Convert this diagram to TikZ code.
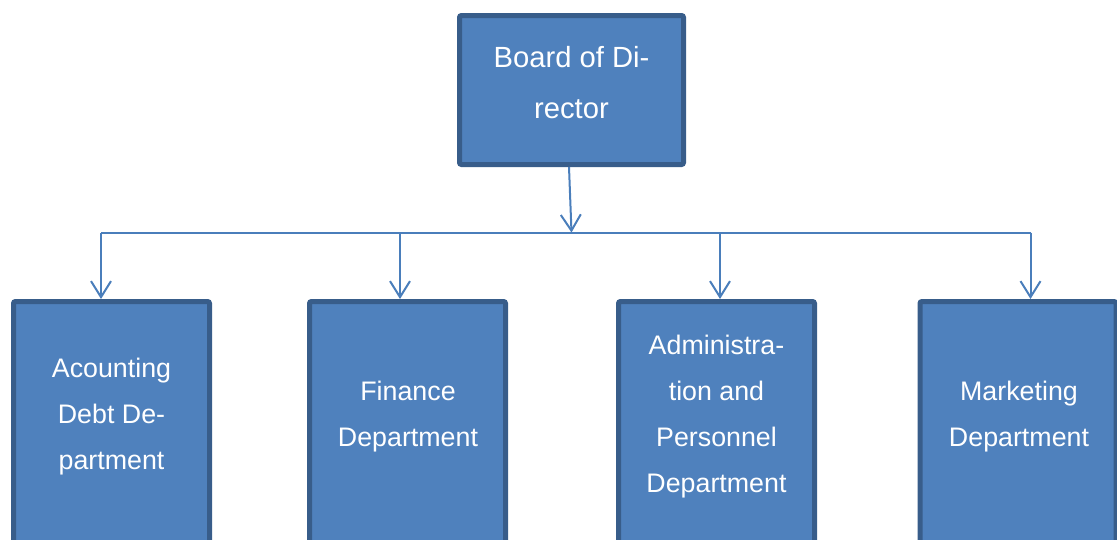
\documentclass[tikz,border=0pt]{standalone}
\usepackage{fontspec}
\setmainfont{Liberation Sans}
\usetikzlibrary{arrows.meta}
\definecolor{boxfill}{HTML}{4F81BD}
\definecolor{boxedge}{HTML}{385D8A}
\definecolor{wire}{HTML}{4A7EBB}
\begin{document}
\begin{tikzpicture}[x=1pt,y=-1pt,
  orgbox/.style={draw=boxedge,fill=boxfill,line width=5pt,rounded corners=2pt,
    minimum width=196pt,minimum height=300pt,inner sep=0pt,anchor=north},
  toptext/.style={text=white,align=center,inner sep=0pt,
    font=\fontsize{29.2}{51}\selectfont},
  deptext/.style={text=white,align=center,inner sep=0pt,
    font=\fontsize{26.8}{46}\selectfont},
  wireline/.style={draw=wire,line width=2pt},
  arr/.style={wireline,-{Straight Barb[length=16pt,width=20pt]}}
]
\path[use as bounding box,clip] (0,0) rectangle (1117,539);

% top box
\node[orgbox,minimum width=224pt,minimum height=149pt,anchor=center] (board) at (571.5,90) {};
\node[toptext] (boardtxt) at (571.5,82.5) {Board of Di-\\rector};

% department boxes (run off the lower edge)
\node[orgbox] (acc) at (111.5,299) {};
\node[orgbox] (fin) at (407.5,299) {};
\node[orgbox] (adm) at (716.5,299) {};
\node[orgbox] (mkt) at (1018,299) {};

\node[deptext] (acctxt) at (111.5,416.5) {Acounting\\Debt De-\\partment};
\node[deptext] (fintxt) at (408,416.5) {Finance\\Department};
\node[deptext] (admtxt) at (716.5,416.5) {Administra-\\tion and\\Personnel\\Department};
\node[deptext] (mkttxt) at (1019,416.5) {Marketing\\Department};

% distribution bus
\coordinate (busL) at (101,232.5);
\coordinate (hub) at (571.5,232.5);
\coordinate (d2) at (400,232.5);
\coordinate (d3) at (720,232.5);
\coordinate (busR) at (1030.5,232.5);
\draw[wireline] (busL) -- (busR);

\draw[arr] ([xshift=-2.5pt]board.south) -- (hub);
\draw[arr] (busL) -- (busL |- acc.north);
\draw[arr] (d2) -- (d2 |- fin.north);
\draw[arr] (d3) -- (d3 |- adm.north);
\draw[arr] (busR) -- (busR |- mkt.north);
\end{tikzpicture}
\end{document}
